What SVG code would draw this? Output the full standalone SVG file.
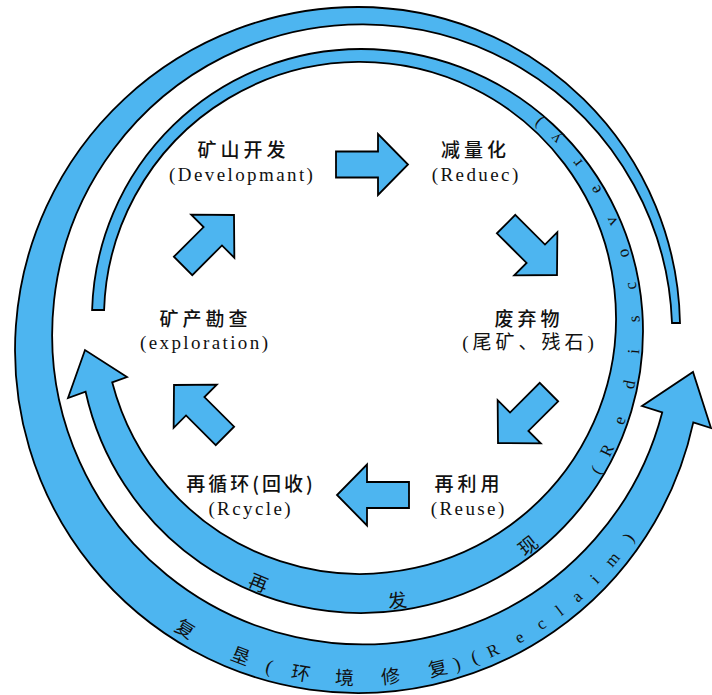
<svg xmlns="http://www.w3.org/2000/svg" width="712" height="695" viewBox="0 0 712 695">
<style>
.band{fill:#4db5f0;stroke:#000;stroke-width:1.8;stroke-linejoin:miter}
.blk{fill:#4db5f0;stroke:#000;stroke-width:1.8;stroke-linejoin:miter}
.cjk{font-family:"Noto Sans CJK SC",sans-serif;font-size:19px;letter-spacing:4px;text-anchor:middle;fill:#111;font-weight:500}
.lat{font-family:"Liberation Serif","Noto Sans CJK SC",serif;font-size:19px;letter-spacing:2.4px;text-anchor:middle;fill:#111}
.mix{font-family:"Liberation Serif","Noto Sans CJK SC",serif;font-size:19px;letter-spacing:4px;text-anchor:middle;fill:#111}
.bt{font-family:"Liberation Serif","Noto Sans CJK SC",serif;font-size:19px;fill:#111;text-anchor:middle}
.sl{font-size:17px}
</style>
<defs>
<polygon id="blk" class="blk" points="-72,-13 -30,-13 -30,-30.5 0,0 -30,30.5 -30,13 -72,13"/>
<path id="t1" d="M67.9,517.5 A335,335 0 0 0 687.9,408.2" fill="none"/>
<path id="t2" d="M98.8,426.4 A279,279 0 1 0 456.4,68.8" fill="none"/>
</defs>
<rect width="712" height="695" fill="#fff"/>
<g id="connectors">
<g id="loop-reclaim">
<path class="band" d="M672,323 L680,323 A322,322 0 0 0 358,7 A343,343 0 1 0 693.3,422.4 L711,428 L693,372 L642,406 L662.2,412.4 A310,310 0 1 1 672,323 Z"/>
<text class="bt"><textPath href="#t1" startOffset="165">复</textPath><textPath href="#t1" startOffset="228">垦</textPath><textPath href="#t1" startOffset="259">(</textPath><textPath href="#t1" startOffset="292">环</textPath><textPath href="#t1" startOffset="337">境</textPath><textPath href="#t1" startOffset="384">修</textPath><textPath href="#t1" startOffset="433">复</textPath><textPath href="#t1" startOffset="453">)</textPath><textPath href="#t1" startOffset="472">(</textPath><textPath class="sl" href="#t1" startOffset="492">R</textPath><textPath class="sl" href="#t1" startOffset="522">e</textPath><textPath class="sl" href="#t1" startOffset="548">c</textPath><textPath class="sl" href="#t1" startOffset="571">l</textPath><textPath class="sl" href="#t1" startOffset="594">a</textPath><textPath class="sl" href="#t1" startOffset="619">i</textPath><textPath class="sl" href="#t1" startOffset="646">m</textPath><textPath class="sl" href="#t1" startOffset="674">)</textPath></text>
</g>
<g id="loop-rediscovery">
<path class="band" d="M104.1,310 L92.1,310 A269,269 0 0 1 361,49 A282,282 0 1 1 85.6,391.7 L68,398 L85,350 L127,377 L112.2,382.3 A256,256 0 1 0 104.1,310 Z"/>
<text class="bt"><textPath href="#t2" startOffset="233">再</textPath><textPath href="#t2" startOffset="378">发</textPath><textPath href="#t2" startOffset="525">现</textPath><textPath class="sl" href="#t2" startOffset="630">(</textPath><textPath class="sl" href="#t2" startOffset="653">R</textPath><textPath class="sl" href="#t2" startOffset="686">e</textPath><textPath class="sl" href="#t2" startOffset="724">d</textPath><textPath class="sl" href="#t2" startOffset="758">i</textPath><textPath class="sl" href="#t2" startOffset="791">s</textPath><textPath class="sl" href="#t2" startOffset="825">c</textPath><textPath class="sl" href="#t2" startOffset="859">o</textPath><textPath class="sl" href="#t2" startOffset="894">v</textPath><textPath class="sl" href="#t2" startOffset="930">e</textPath><textPath class="sl" href="#t2" startOffset="963">r</textPath><textPath class="sl" href="#t2" startOffset="996">y</textPath><textPath class="sl" href="#t2" startOffset="1020">)</textPath></text>
</g>
<use href="#blk" transform="translate(408,164.5)"/>
<use href="#blk" transform="translate(557,275) rotate(45)"/>
<use href="#blk" transform="translate(498,443) rotate(135)"/>
<use href="#blk" transform="translate(337,495) rotate(180)"/>
<use href="#blk" transform="translate(174,385) rotate(225)"/>
<use href="#blk" transform="translate(234,215) rotate(-45)"/>
</g>
<g id="node-development">
<text class="cjk" x="243.5" y="157">矿山开发</text>
<text class="lat" x="242.2" y="181">(Developmant)</text>
</g>
<g id="node-reduce">
<text class="cjk" x="475.5" y="157">减量化</text>
<text class="lat" x="476.2" y="181">(Reduec)</text>
</g>
<g id="node-waste">
<text class="cjk" x="529" y="326">废弃物</text>
<text class="mix" x="530" y="349">(尾矿、残石)</text>
</g>
<g id="node-reuse">
<text class="cjk" x="469" y="491">再利用</text>
<text class="lat" x="468.7" y="515">(Reuse)</text>
</g>
<g id="node-recycle">
<text class="cjk" x="251" y="491" style="letter-spacing:3px">再循环(回收)</text>
<text class="lat" x="250.7" y="515">(Rcycle)</text>
</g>
<g id="node-exploration">
<text class="cjk" x="205.5" y="326">矿产勘查</text>
<text class="lat" x="205.2" y="349">(exploration)</text>
</g>
</svg>
